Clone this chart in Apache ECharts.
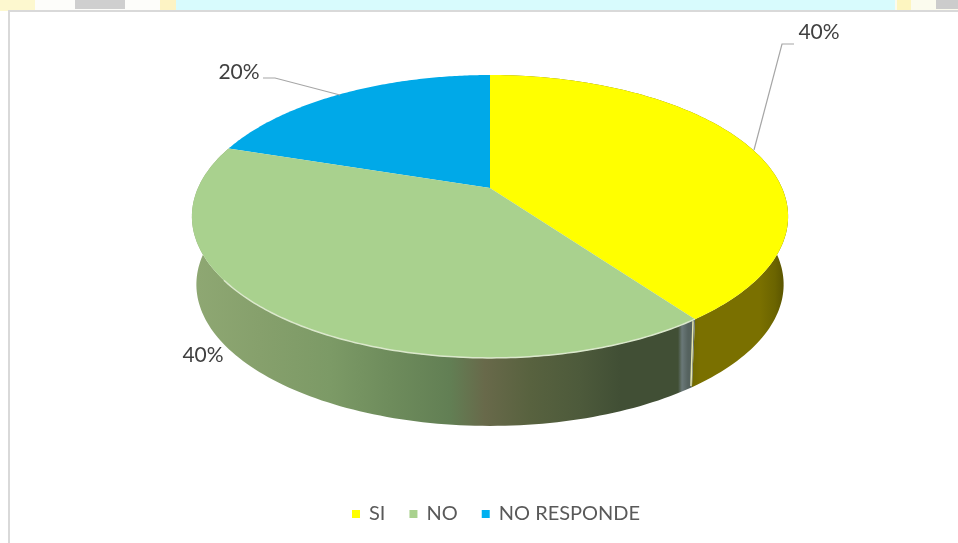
<!DOCTYPE html>
<html><head><meta charset="utf-8">
<style>html,body{margin:0;padding:0;background:#fff}#c{width:958px;height:543px}</style>
<script src="https://cdn.jsdelivr.net/npm/echarts@6/dist/echarts.min.js"></script>
</head><body><div id="c"></div>
<script>
const categories = ['SI', 'NO', 'NO RESPONDE'];
const values = [40, 40, 20];
const colors = ['#FFFF00', '#A9D18E', '#00A9E8'];
const legendColors = ['#FFFF00', '#A9D18E', '#00B0F0'];

// perspective pie geometry (apex, half-axes, depth)
const P = {cx: 490, cy: 188, A: 135.7, B: 292, k: 0.2013, depth: 68, lowScale: 0.985};
const total = values.reduce((a, b) => a + b, 0);

function pt(theta, low) {
  const d = P.k * Math.cos(theta) + 1;
  const s = low ? P.lowScale : 1;
  return [P.cx + s * P.B * Math.sin(theta) / d,
          P.cy - P.A * Math.cos(theta) / d + (low ? P.depth : 0)];
}
function rim(a, b, low) {
  const out = [], n = 120;
  for (let i = 0; i <= n; i++) out.push(pt(a + (b - a) * i / n, low));
  return out;
}
const G = (stops) => new echarts.graphic.LinearGradient(190, 0, 790, 0,
  stops.map(s => ({offset: (s[0] - 190) / 600, color: s[1]})), true);

const sideFills = [
  G([[690,'#6f6900'],[700,'#7a7000'],[760,'#7a7000'],[775,'#6b6400'],[790,'#4f4a00']]),
  G([[190,'#8fa873'],[260,'#86a06c'],[330,'#7c9a66'],[390,'#6e8c5c'],[450,'#627f54'],[485,'#68694a'],
     [530,'#58623f'],[580,'#4d5a3b'],[620,'#414f35'],[678,'#414f35'],[682,'#6a7878'],[688,'#55625f'],[695,'#55625f']]),
  null
];
const rimLight = [null, '#dbe8cc', null];
const seriesZ = [3, 4, 2];

// label placement: [text x, text y, leader polyline or null]
const labelPlace = [
  {x: 819, y: 32, line: [[794, 44], [782, 44], [754, 150]]},
  {x: 203, y: 355, line: null},
  {x: 239, y: 72, line: [[263, 78], [275, 78], [340, 95]]}
];

function makeSeries(i, start, end) {
  return {
    type: 'custom', name: categories[i], coordinateSystem: 'none',
    itemStyle: {color: legendColors[i]}, silent: true, z: seriesZ[i],
    data: [[start, end, values[i]]],
    renderItem: function (params, api) {
      const a = api.value(0) / total * Math.PI * 2;
      const b = api.value(1) / total * Math.PI * 2;
      const topRim = rim(a, b, false);
      const children = [];
      if (sideFills[i]) children.push({type: 'polygon', shape: {points: topRim.concat(rim(a, b, true).reverse())},
        style: {fill: sideFills[i], stroke: null}});
      if (i === 1) children.push({type: 'line',
        shape: {x1: pt(a, false)[0] - 2, y1: pt(a, false)[1] + 2, x2: pt(a, true)[0] - 1, y2: pt(a, true)[1] - 1},
        style: {stroke: '#e8e8b0', lineWidth: 1.5}});
      children.push({type: 'polygon', shape: {points: [[P.cx, P.cy]].concat(topRim)},
        style: {fill: colors[i], stroke: null}});
      if (rimLight[i]) children.push({type: 'polyline', shape: {points: rim(b * 0.62 + a * 0.38, a, false)},
        style: {fill: null, stroke: rimLight[i], lineWidth: 1.5}});
      const pl = labelPlace[i];
      if (pl.line) children.push({type: 'polyline', shape: {points: pl.line},
        style: {fill: null, stroke: '#a6a6a6', lineWidth: 1.2}});
      children.push({type: 'text', x: pl.x, y: pl.y, z2: 50,
        style: {text: Math.round(api.value(2) / total * 100) + '%', fill: '#404040',
          font: '21px Lato', textAlign: 'center', textVerticalAlign: 'middle'}});
      return {type: 'group', children};
    }
  };
}
let run = 0;
const series = values.map((v, i) => { const s = makeSeries(i, run, run + v); run += v; return s; });

const chart = echarts.init(document.getElementById('c'), null, {renderer: 'canvas'});
chart.setOption({
  animation: false,
  backgroundColor: '#fff',
  legend: {
    data: categories, icon: 'rect', itemWidth: 8, itemHeight: 8, itemGap: 24,
    left: 347, top: 499, selectedMode: false,
    textStyle: {color: '#595959', fontFamily: 'Lato', fontSize: 20, padding: [0, 0, 0, 4]}
  },
  graphic: [
    {type: 'rect', z: 0, shape: {x: 0, y: 0, width: 958, height: 11}, style: {fill: '#d8fbfd'}},
    {type: 'rect', z: 0, shape: {x: 0, y: 0, width: 35, height: 11}, style: {fill: '#fdf8cf'}},
    {type: 'rect', z: 0, shape: {x: 35, y: 0, width: 130, height: 11}, style: {fill: '#fdfdfa'}},
    {type: 'rect', z: 0, shape: {x: 75, y: 0, width: 50, height: 9}, style: {fill: '#cfcfcf'}},
    {type: 'rect', z: 0, shape: {x: 160, y: 0, width: 16, height: 11}, style: {fill: '#fdf3c4'}},
    {type: 'rect', z: 0, shape: {x: 895, y: 0, width: 63, height: 11}, style: {fill: '#fbfbee'}},
    {type: 'rect', z: 0, shape: {x: 897, y: 0, width: 14, height: 11}, style: {fill: '#fdf5c0'}},
    {type: 'rect', z: 0, shape: {x: 936, y: 0, width: 22, height: 9}, style: {fill: '#cccccc'}},
    {type: 'rect', z: 0, shape: {x: 0, y: 11, width: 9, height: 532}, style: {fill: '#fff'}},
    {type: 'rect', z: 1, shape: {x: 9, y: 11, width: 960, height: 550},
      style: {fill: '#fff', stroke: '#d9d9d9', lineWidth: 2}}
  ],
  series
});
</script></body></html>
